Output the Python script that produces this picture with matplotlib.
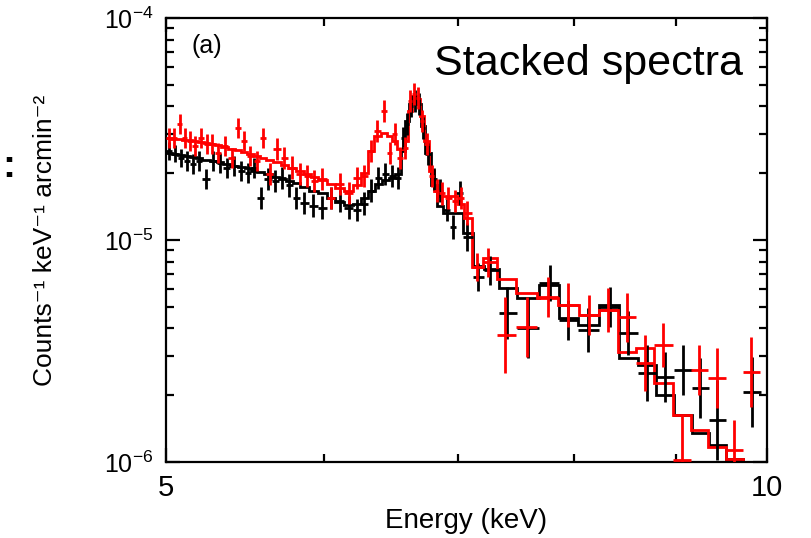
import numpy as np
import matplotlib
matplotlib.use("Agg")
import matplotlib.pyplot as plt
from matplotlib.ticker import FixedLocator, NullFormatter, LogLocator

plt.rcParams['font.family'] = ['Liberation Sans', 'DejaVu Sans']
plt.rcParams['mathtext.fontset'] = 'custom'
plt.rcParams['mathtext.rm'] = 'Liberation Sans'
plt.rcParams['mathtext.it'] = 'Liberation Sans:italic'

# black spectrum: bin centre (keV), counts, error (dex), model
blk_E = [5.017, 5.052, 5.087, 5.123, 5.158, 5.194, 5.236, 5.279, 5.321, 5.364,
         5.408, 5.452, 5.496, 5.534, 5.579, 5.624, 5.670, 5.716, 5.762, 5.809,
         5.863, 5.924, 5.986, 6.048, 6.111, 6.175, 6.232, 6.283, 6.334, 6.385,
         6.437, 6.489, 6.534, 6.572, 6.602, 6.633, 6.663, 6.694, 6.725, 6.764,
         6.811, 6.858, 6.914, 6.962, 7.018, 7.075, 7.166, 7.266, 7.409, 7.591,
         7.786, 7.950, 8.135, 8.344, 8.519, 8.708, 8.891, 9.077, 9.257, 9.440,
         9.627, 9.829]
blk_flux = [2.52e-5, 2.45e-5, 2.35e-5, 2.28e-5, 2.21e-5, 2.28e-5, 1.89e-5, 2.28e-5, 2.23e-5, 2.12e-5,
            2.16e-5, 2.05e-5, 2.01e-5, 2.10e-5, 1.54e-5, 1.89e-5, 1.85e-5, 1.91e-5, 1.76e-5, 1.54e-5,
            1.47e-5, 1.43e-5, 1.40e-5, 1.55e-5, 1.50e-5, 1.40e-5, 1.36e-5, 1.46e-5, 1.67e-5, 1.91e-5,
            1.99e-5, 1.95e-5, 1.91e-5, 2.89e-5, 3.34e-5, 4.02e-5, 4.24e-5, 4.11e-5, 3.20e-5, 2.45e-5,
            1.89e-5, 1.67e-5, 1.36e-5, 1.14e-5, 1.62e-5, 1.03e-5, 6.78e-6, 7.29e-6, 4.67e-6, 4.00e-6,
            6.37e-6, 4.35e-6, 3.92e-6, 4.97e-6, 3.80e-6, 2.51e-6, 2.41e-6, 2.59e-6, 2.15e-6, 1.54e-6,
            np.nan, 2.06e-6]
blk_err = [0.040, 0.040, 0.040, 0.045, 0.045, 0.045, 0.045, 0.045, 0.045, 0.045,
           0.045, 0.045, 0.045, 0.045, 0.050, 0.050, 0.050, 0.050, 0.050, 0.050,
           0.050, 0.050, 0.050, 0.050, 0.050, 0.050, 0.050, 0.050, 0.050, 0.050,
           0.050, 0.050, 0.050, 0.050, 0.050, 0.050, 0.050, 0.050, 0.050, 0.050,
           0.050, 0.050, 0.050, 0.054, 0.054, 0.063, 0.063, 0.067, 0.117, 0.135,
           0.081, 0.090, 0.099, 0.090, 0.099, 0.126, 0.112, 0.112, 0.135, 0.180,
           np.nan, 0.157]
blk_model = [2.47e-5, 2.45e-5, 2.42e-5, 2.40e-5, 2.37e-5, 2.35e-5, 2.30e-5, 2.28e-5, 2.25e-5, 2.21e-5,
             2.16e-5, 2.14e-5, 2.10e-5, 2.05e-5, 2.03e-5, 1.99e-5, 1.93e-5, 1.89e-5, 1.85e-5, 1.81e-5,
             1.74e-5, 1.67e-5, 1.62e-5, 1.55e-5, 1.49e-5, 1.44e-5, 1.46e-5, 1.54e-5, 1.67e-5, 1.79e-5,
             1.87e-5, 1.91e-5, 1.99e-5, 2.52e-5, 3.44e-5, 4.11e-5, 4.33e-5, 4.11e-5, 3.27e-5, 2.47e-5,
             1.76e-5, 1.43e-5, 1.33e-5, 1.32e-5, 1.32e-5, 1.07e-5, 7.60e-6, 7.44e-6, 6.05e-6, 5.46e-6,
             6.24e-6, 4.44e-6, 4.13e-6, 5.08e-6, 2.93e-6, 2.73e-6, 2.00e-6, 1.63e-6, 1.35e-6, 1.19e-6,
             1.03e-6, 8.7e-7]

# red spectrum
red_E = [5.017, 5.046, 5.081, 5.111, 5.140, 5.170, 5.206, 5.242, 5.272, 5.309,
         5.352, 5.395, 5.433, 5.471, 5.509, 5.553, 5.592, 5.637, 5.683, 5.729,
         5.782, 5.836, 5.883, 5.931, 5.986, 6.048, 6.111, 6.175, 6.232, 6.283,
         6.334, 6.378, 6.429, 6.474, 6.511, 6.549, 6.587, 6.625, 6.656, 6.686,
         6.717, 6.756, 6.795, 6.834, 6.874, 6.922, 6.978, 7.026, 7.075, 7.157,
         7.249, 7.392, 7.582, 7.768, 7.950, 8.144, 8.325, 8.509, 8.688, 8.870,
         9.066, 9.246, 9.440, 9.627, 9.818]
red_flux = [2.89e-5, 2.89e-5, 3.34e-5, 2.89e-5, 2.80e-5, 2.66e-5, 2.89e-5, 2.71e-5, 2.71e-5, 2.47e-5,
            2.66e-5, 2.35e-5, 3.20e-5, 2.80e-5, 2.40e-5, 2.28e-5, 2.89e-5, 1.99e-5, 2.58e-5, 2.35e-5,
            2.12e-5, 1.99e-5, 1.95e-5, 1.85e-5, 1.89e-5, 1.55e-5, 1.79e-5, 1.63e-5, 1.91e-5, 1.95e-5,
            2.52e-5, 3.10e-5, 3.82e-5, 2.47e-5, 3.01e-5, 2.35e-5, 2.60e-5, 4.24e-5, 4.55e-5, 4.37e-5,
            3.44e-5, 2.71e-5, 1.95e-5, 1.67e-5, 1.62e-5, 1.55e-5, 1.50e-5, 1.54e-5, 1.32e-5, 7.52e-6,
            7.92e-6, 3.72e-6, 4.04e-6, 5.51e-6, 5.08e-6, 4.58e-6, 4.82e-6, 4.48e-6, 2.79e-6, 3.36e-6,
            1.02e-6, 2.59e-6, 2.38e-6, 1.13e-6, 2.54e-6]
red_err = [0.045, 0.045, 0.045, 0.045, 0.045, 0.045, 0.045, 0.045, 0.045, 0.045,
           0.045, 0.045, 0.045, 0.045, 0.045, 0.045, 0.045, 0.050, 0.050, 0.050,
           0.050, 0.050, 0.050, 0.050, 0.050, 0.050, 0.050, 0.050, 0.050, 0.050,
           0.050, 0.050, 0.050, 0.050, 0.050, 0.050, 0.050, 0.050, 0.050, 0.050,
           0.050, 0.050, 0.050, 0.050, 0.050, 0.050, 0.050, 0.050, 0.054, 0.063,
           0.067, 0.171, 0.135, 0.090, 0.099, 0.090, 0.099, 0.112, 0.126, 0.099,
           0.202, 0.112, 0.135, 0.135, 0.157]
red_model = [2.89e-5, 2.86e-5, 2.86e-5, 2.83e-5, 2.83e-5, 2.80e-5, 2.77e-5, 2.74e-5, 2.71e-5, 2.69e-5,
             2.63e-5, 2.58e-5, 2.55e-5, 2.50e-5, 2.45e-5, 2.40e-5, 2.35e-5, 2.30e-5, 2.25e-5, 2.18e-5,
             2.12e-5, 2.05e-5, 1.99e-5, 1.93e-5, 1.87e-5, 1.79e-5, 1.72e-5, 1.67e-5, 1.76e-5, 2.01e-5,
             2.52e-5, 2.95e-5, 3.04e-5, 2.95e-5, 2.80e-5, 2.58e-5, 2.80e-5, 3.82e-5, 4.46e-5, 4.33e-5,
             3.63e-5, 2.80e-5, 2.05e-5, 1.67e-5, 1.58e-5, 1.58e-5, 1.58e-5, 1.46e-5, 1.26e-5, 7.52e-6,
             8.26e-6, 6.65e-6, 5.75e-6, 5.46e-6, 5.08e-6, 4.58e-6, 4.82e-6, 3.12e-6, 3.25e-6, 2.26e-6,
             1.63e-6, 1.39e-6, 1.17e-6, 1.03e-6, 8.3e-7]


def edges_of(E):
    mids = np.sqrt(E[:-1] * E[1:])
    return np.concatenate([[E[0] ** 2 / mids[0]], mids, [E[-1] ** 2 / mids[-1]]])


def draw(ax, E, flux, err, model, col):
    E = np.array(E); flux = np.array(flux); err = np.array(err)
    ed = edges_of(E)
    ax.stairs(model, ed, color=col, lw=2.0, baseline=None, zorder=2)
    m = ~np.isnan(flux)
    xlo = (E - ed[:-1])[m]
    xhi = (ed[1:] - E)[m]
    f = flux[m]
    ylo = f - f * 10 ** (-err[m])
    yhi = f * 10 ** err[m] - f
    ax.errorbar(E[m], f, xerr=[xlo, xhi], yerr=[ylo, yhi], fmt='none',
                ecolor=col, elinewidth=2.0, capsize=0, zorder=3)


fig = plt.figure(figsize=(8.12, 5.38), dpi=100)
ax = fig.add_axes([166 / 812, 1 - 462 / 538, 601 / 812, 444 / 538])

draw(ax, blk_E, blk_flux, blk_err, blk_model, 'black')
draw(ax, red_E, red_flux, red_err, red_model, '#ff0000')

ax.set_xscale('log')
ax.set_yscale('log')
ax.set_xlim(5, 10)
ax.set_ylim(1e-6, 1e-4)

ax.xaxis.set_major_locator(FixedLocator([5, 10]))
ax.xaxis.set_minor_locator(FixedLocator([6, 7, 8, 9]))
ax.set_xticklabels(['5', '10'])
ax.xaxis.set_minor_formatter(NullFormatter())
ax.yaxis.set_major_locator(LogLocator(base=10, numticks=5))
ax.yaxis.set_minor_locator(LogLocator(base=10, subs=np.arange(2, 10), numticks=20))
ax.yaxis.set_minor_formatter(NullFormatter())

ax.tick_params(which='both', direction='in', top=True, right=True, width=1.6)
ax.tick_params(which='major', length=10)
ax.tick_params(which='minor', length=6)
ax.tick_params(axis='x', which='major', labelsize=21, pad=9)
ax.tick_params(axis='y', which='major', labelsize=18, pad=9)
for s in ax.spines.values():
    s.set_linewidth(1.6)

ax.set_xlabel('Energy (keV)', fontsize=20, labelpad=4)
ax.set_ylabel('Counts⁻¹ keV⁻¹ arcmin⁻²', fontsize=19, labelpad=34)

ax.text(0.043, 0.937, '(a)', transform=ax.transAxes, fontsize=18, ha='left', va='center')
ax.text(0.96, 0.872, 'Stacked spectra', transform=ax.transAxes, fontsize=31,
        ha='right', va='baseline')
fig.text(0.003, 0.69, ':', fontsize=28, fontweight='bold', ha='left', va='center')

fig.savefig('out.png', dpi=100)
